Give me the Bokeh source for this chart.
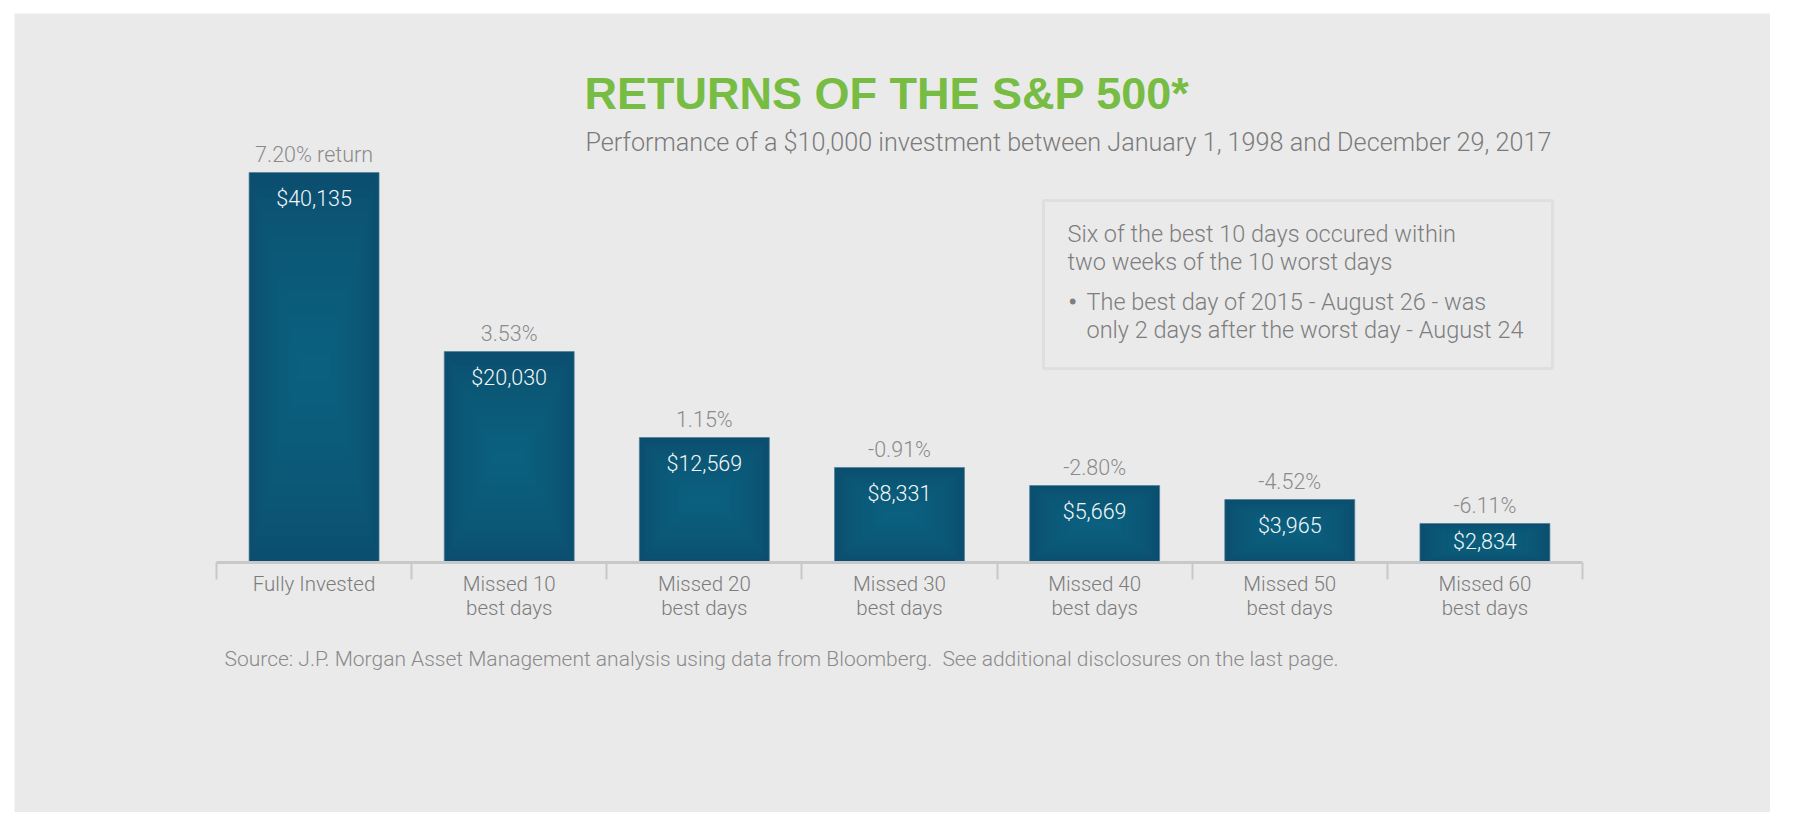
from bokeh.plotting import figure
from bokeh.models import Range1d, LinearAxis, FixedTicker, Label, BoxAnnotation, ColumnDataSource, Spacer
from bokeh.layouts import column, row
from bokeh.core.properties import value
from bokeh.embed import file_html
from bokeh.resources import INLINE

# ---------------- data ----------------
categories = ["Fully Invested", "Missed 10\nbest days", "Missed 20\nbest days",
              "Missed 30\nbest days", "Missed 40\nbest days", "Missed 50\nbest days",
              "Missed 60\nbest days"]
ending_values = [40135, 20030, 12569, 8331, 5669, 3965, 2834]
annual_returns = ["7.20% return", "3.53%", "1.15%", "-0.91%", "-2.80%", "-4.52%", "-6.11%"]
# bar lengths as drawn in the original graphic (not to scale with the dollar labels)
bar_heights_as_drawn = [40135, 21690, 12830, 9740, 7880, 6440, 3970]

title_text = "RETURNS OF THE S&P 500*"
subtitle_text = "Performance of a $10,000 investment between January 1, 1998 and December 29, 2017"
box_lines = ["Six of the best 10 days occured within", "two weeks of the 10 worst days"]
bullet_lines = ["The best day of 2015 - August 26 - was", "only 2 days after the worst day - August 24"]
source_text = ("Source: J.P. Morgan Asset Management analysis using data from Bloomberg.\u00a0 "
               "See additional disclosures on the last page.")

# ---------------- layout / style ----------------
W, H = 1756, 799
BAND_PX = 195.14
BAND_LEFT_PX = 202.0
BASELINE_PX = 548.5
DOLLARS_PER_PX = 103.04
BG = "#EAEAEA"
GREEN = "#77BC43"
GRAY = "#7C7C7C"
LIGHT = "Roboto Light"

x = [i + 0.5 for i in range(len(categories))]
dollar_labels = ["${:,}".format(v) for v in ending_values]
inner_offsets = [min(26, h / DOLLARS_PER_PX * 0.46) for h in bar_heights_as_drawn]

src = ColumnDataSource(dict(x=x, h=bar_heights_as_drawn, dl=dollar_labels,
                            pct=annual_returns, off=inner_offsets))

p = figure(width=W, height=H, output_backend="svg", toolbar_location=None,
           x_range=Range1d(-BAND_LEFT_PX / BAND_PX, (W - BAND_LEFT_PX) / BAND_PX),
           y_range=Range1d(-(H - BASELINE_PX) * DOLLARS_PER_PX, BASELINE_PX * DOLLARS_PER_PX),
           x_axis_type=None, y_axis_type=None, min_border=0)
p.background_fill_color = BG
p.border_fill_color = BG
p.outline_line_color = None

BAR_W = 0.666
# base bar (darker edge)
p.vbar(x="x", top="h", bottom=0, width=BAR_W, source=src,
       fill_color="#0B4E6F", line_color="#4F7F99", line_width=1, line_alpha=0.7)
# soft radial-like highlight built from nested, translucent layers of each bar
N = 14
for k in range(1, N + 1):
    f = 1 - k / (N + 1)
    layer = ColumnDataSource(dict(
        x=x,
        top=[h * (0.5 + 0.5 * f) for h in bar_heights_as_drawn],
        bottom=[h * (0.5 - 0.5 * f) for h in bar_heights_as_drawn]))
    p.vbar(x="x", top="top", bottom="bottom", width=BAR_W * (0.2 + 0.8 * f), source=layer,
           fill_color="#0D6B94", fill_alpha=0.07, line_color=None)

# value labels
p.text(x="x", y="h", text="dl", source=src, y_offset="off",
       text_align="center", text_baseline="middle", text_color="#F4F6F8",
       text_font=value(LIGHT), text_font_size="21.5px")
p.text(x="x", y="h", text="pct", source=src, y_offset=-18,
       text_align="center", text_baseline="alphabetic", text_color="#8A8A8A",
       text_font=value(LIGHT), text_font_size="21.5px")

# axis: line with ticks at band edges
tick_axis = LinearAxis(fixed_location=0, ticker=FixedTicker(ticks=list(range(len(categories) + 1))),
                       bounds=(0, len(categories)))
tick_axis.axis_line_color = "#C8C8C8"
tick_axis.axis_line_width = 3
tick_axis.major_tick_line_color = "#C8C8C8"
tick_axis.major_tick_line_width = 2
tick_axis.major_tick_out = 17
tick_axis.major_tick_in = 0
tick_axis.minor_tick_line_color = None
tick_axis.major_label_text_color = None
p.add_layout(tick_axis, "below")

# axis: category labels at band centers
label_axis = LinearAxis(fixed_location=0, ticker=FixedTicker(ticks=x),
                        major_label_overrides={xx: c for xx, c in zip(x, categories)})
label_axis.axis_line_color = None
label_axis.major_tick_line_color = None
label_axis.minor_tick_line_color = None
label_axis.major_tick_out = 0
label_axis.major_tick_in = 0
label_axis.major_label_standoff = 10
label_axis.major_label_text_font = LIGHT
label_axis.major_label_text_font_size = "20.5px"
label_axis.major_label_text_line_height = 1.0
label_axis.major_label_text_color = GRAY
p.add_layout(label_axis, "below")


def add_label(text, px, py, size, color, font=LIGHT, style="normal"):
    p.add_layout(Label(x=px, y=H - py, x_units="screen", y_units="screen", text=text,
                       text_font=font, text_font_size=size, text_color=color,
                       text_font_style=style, text_baseline="alphabetic", text_align="left"))


add_label(title_text, 570, 80, "45px", GREEN, font="Liberation Sans", style="bold")
add_label(subtitle_text, 571, 129, "25.2px", "#7A7A7A")

p.add_layout(BoxAnnotation(left=1029, right=1538, top=H - 187, bottom=H - 355,
                           left_units="screen", right_units="screen",
                           top_units="screen", bottom_units="screen",
                           fill_color=None, line_color="#C6C6C6", line_width=3))
BOX_C = "#7E7E7E"
add_label(box_lines[0], 1053, 220, "23.5px", BOX_C)
add_label(box_lines[1], 1053, 248, "23.5px", BOX_C)
add_label("\u2022", 1054, 288, "26px", BOX_C, style="bold")
add_label(bullet_lines[0], 1072, 288, "23.5px", BOX_C)
add_label(bullet_lines[1], 1072, 316, "23.5px", BOX_C)

add_label(source_text, 210, 645, "21px", "#8A8A8A")

layout = column(Spacer(height=13), row(Spacer(width=14), p))
open("out.html", "w").write(file_html(layout, INLINE))
